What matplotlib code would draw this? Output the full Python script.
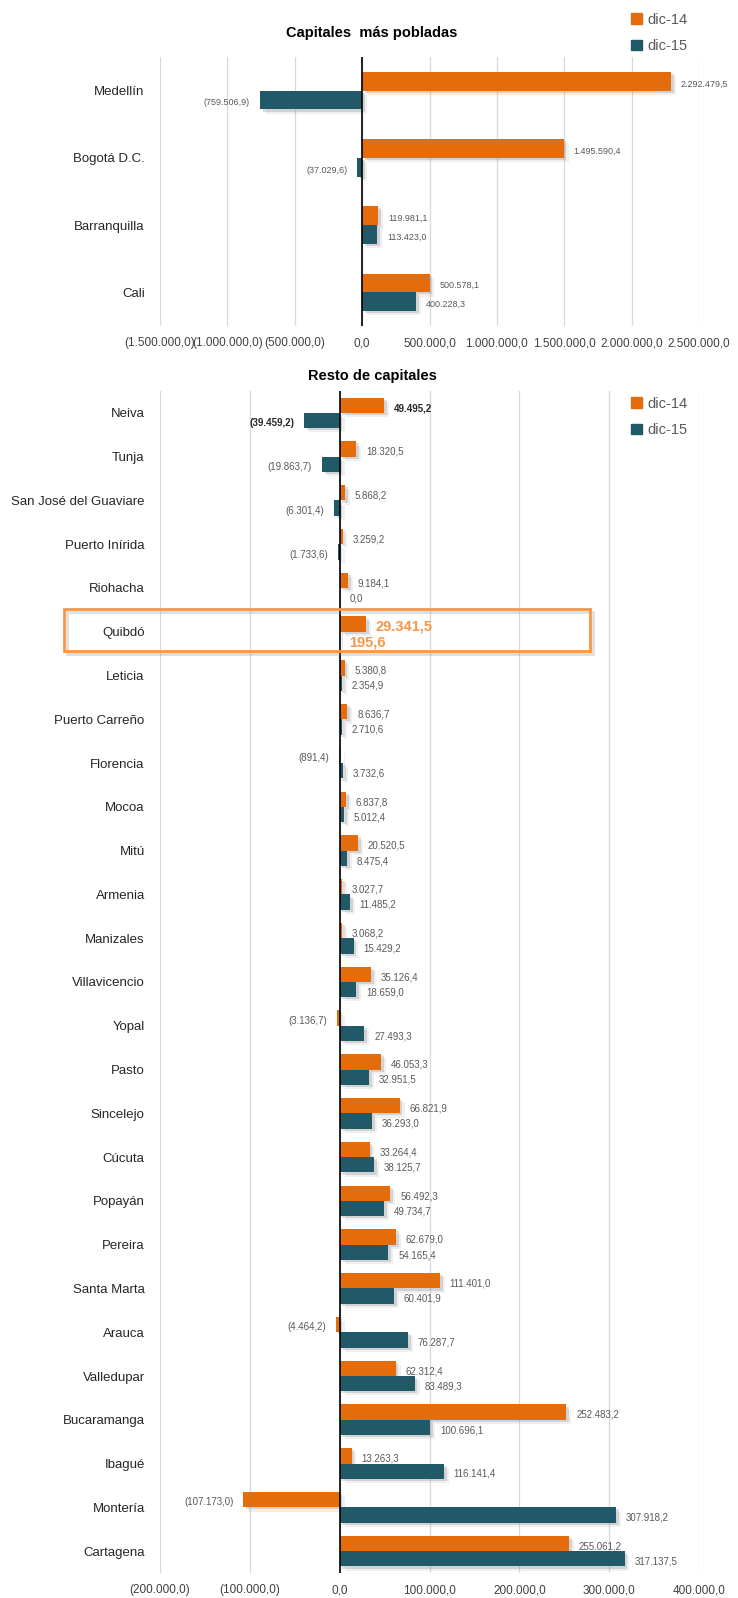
import matplotlib

matplotlib.use("Agg")
import matplotlib.pyplot as plt
import matplotlib.patheffects as pe
from matplotlib.patches import Patch, Rectangle
from matplotlib.ticker import FuncFormatter, MultipleLocator
import numpy as np

ORANGE = "#E46C0A"
TEAL = "#215968"
HILITE = "#F79646"
GRID = "#D9D9D9"
LABEL_GRAY = "#595959"

# Capitales más pobladas
top_cities = ["Medellín", "Bogotá D.C.", "Barranquilla", "Cali"]
top_dic14 = [2292479.5, 1495590.4, 119981.1, 500578.1]
top_dic15 = [-759506.9, -37029.6, 113423.0, 400228.3]

# Resto de capitales
rest_cities = [
    "Neiva", "Tunja", "San José del Guaviare", "Puerto Inírida", "Riohacha",
    "Quibdó", "Leticia", "Puerto Carreño", "Florencia", "Mocoa", "Mitú",
    "Armenia", "Manizales", "Villavicencio", "Yopal", "Pasto", "Sincelejo",
    "Cúcuta", "Popayán", "Pereira", "Santa Marta", "Arauca", "Valledupar",
    "Bucaramanga", "Ibagué", "Montería", "Cartagena",
]
rest_dic14 = [
    49495.2, 18320.5, 5868.2, 3259.2, 9184.1,
    29341.5, 5380.8, 8636.7, -891.4, 6837.8, 20520.5,
    3027.7, 3068.2, 35126.4, -3136.7, 46053.3, 66821.9,
    33264.4, 56492.3, 62679.0, 111401.0, -4464.2, 62312.4,
    252483.2, 13263.3, -107173.0, 255061.2,
]
rest_dic15 = [
    -39459.2, -19863.7, -6301.4, -1733.6, 0.0,
    195.6, 2354.9, 2710.6, 3732.6, 5012.4, 8475.4,
    11485.2, 15429.2, 18659.0, 27493.3, 32951.5, 36293.0,
    38125.7, 49734.7, 54165.4, 60401.9, 76287.7, 83489.3,
    100696.1, 116141.4, 307918.2, 317137.5,
]

SANS = ["Liberation Sans", "DejaVu Sans"]
plt.rcParams["font.family"] = SANS


def fmt(v):
    s = f"{abs(v):,.1f}".replace(",", "X").replace(".", ",").replace("X", ".")
    return f"({s})" if v < 0 else s


def shadow():
    # soft-ish drop shadow like the spreadsheet bars
    return [pe.SimplePatchShadow(offset=(3.5, -3), shadow_rgbFace="#9a9a9a", alpha=0.15),
            pe.SimplePatchShadow(offset=(2, -1.5), shadow_rgbFace="#7f7f7f", alpha=0.25),
            pe.Normal()]


def draw_panel(ax, cities, s14, s15, h, xlim, step, lab_size, special=None):
    special = special or {}
    y = np.arange(len(cities))
    b14 = ax.barh(y - h / 2, s14, height=h, color=ORANGE, zorder=3)
    b15 = ax.barh(y + h / 2, s15, height=h, color=TEAL, zorder=3)
    for bars in (b14, b15):
        for p in bars:
            p.set_path_effects(shadow())

    for i, (v14, v15) in enumerate(zip(s14, s15)):
        style = special.get(cities[i], {})
        for v, yy in ((v14, i - h / 2), (v15, i + h / 2)):
            kw = dict(fontsize=lab_size, color=LABEL_GRAY, family=SANS)
            kw.update(style)
            neg = v < 0
            ax.annotate(fmt(v), (v, yy), xytext=(-7 if neg else 7, -2),
                        textcoords="offset points", ha="right" if neg else "left",
                        va="center", zorder=5, **kw)

    ax.axvline(0, color="black", lw=1.2, zorder=4)
    ax.set_xlim(xlim)
    ax.set_ylim(len(cities) - 0.5, -0.5)
    ax.xaxis.set_major_locator(MultipleLocator(step))
    ax.xaxis.set_major_formatter(FuncFormatter(lambda v, p: fmt(v)))
    ax.xaxis.grid(True, color=GRID, lw=0.9)
    ax.set_axisbelow(True)
    ax.set_yticks(y)
    ax.set_yticklabels(cities, fontsize=9.5, color="#262626")
    ax.tick_params(axis="y", length=0, pad=11)
    ax.tick_params(axis="x", length=0, pad=8, labelsize=8.5, labelcolor="#404040")
    for s in ax.spines.values():
        s.set_visible(False)


W, H = 738, 1598
fig = plt.figure(figsize=(W / 100, H / 100), dpi=100)


def fx(px):
    return px / W


def fy(py):
    return 1 - py / H


ax_top = fig.add_axes([fx(160), fy(326), fx(699 - 160), (326 - 57) / H])
draw_panel(ax_top, top_cities, top_dic14, top_dic15, 0.28,
           (-1500000, 2500000), 500000, 6.5)

ax_rest = fig.add_axes([fx(160), fy(1573), fx(699 - 160), (1573 - 391) / H])
draw_panel(ax_rest, rest_cities, rest_dic14, rest_dic15, 0.35,
           (-200000, 400000), 100000, 7,
           special={"Neiva": dict(fontweight="bold", color="#262626"),
                    "Quibdó": dict(fontweight="bold", color=HILITE, fontsize=10.5)})

fig.text(fx(372), fy(33), "Capitales  más pobladas", ha="center", va="center",
         fontsize=10.5, fontweight="bold", color="black")
fig.text(fx(372), fy(376), "Resto de capitales", ha="center", va="center",
         fontsize=10.5, fontweight="bold", color="black")

handles = [Patch(color=ORANGE, label="dic-14"), Patch(color=TEAL, label="dic-15")]
for cy in (33, 417):
    fig.legend(handles=handles, loc="center left", bbox_to_anchor=(fx(631), fy(cy)),
               frameon=False, fontsize=10.5, labelcolor="#595959", borderpad=0,
               borderaxespad=0, handlelength=0.75, handleheight=0.75,
               handletextpad=0.35, labelspacing=0.85)

# Highlight box around Quibdó
box = Rectangle((fx(64), fy(651)), fx(590 - 64), (651 - 609) / H,
                transform=fig.transFigure, fill=False, edgecolor=HILITE, lw=2, zorder=6)
box.set_path_effects([pe.SimpleLineShadow(offset=(2, -2), shadow_color="#7f7f7f", alpha=0.25),
                      pe.Normal()])
fig.patches.append(box)

fig.savefig("out.png", dpi=100)
